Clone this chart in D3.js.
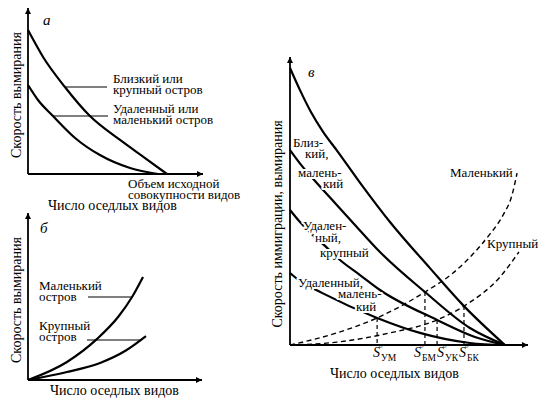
<!DOCTYPE html>
<html><head><meta charset="utf-8">
<script src="https://cdn.jsdelivr.net/npm/d3@7"></script>
<style>
html,body{margin:0;padding:0;background:#fff;}
svg{display:block;}
svg text{font-family:"Liberation Serif","DejaVu Serif",serif;}
</style></head>
<body>
<script>
// ---------- DATA (x,y in 0..100 axis units) ----------
// Panel а: extinction rate curves
const aCloseLarge = [[0,86.7],[8.6,70.5],[21.1,52.4],[35.4,34.9],[52.6,20.5],[66.9,9.6],[79.4,0]];
const aFarSmall   = [[0,53.6],[5.7,44.6],[14.3,34.9],[26.9,21.7],[41.1,11.4],[58.3,3.6],[74.3,0]];
// Panel б: extinction rate vs number of species
const bSmall = [[0,0],[22.4,10.8],[39.7,24.6],[52,38],[59.8,49.7],[66.1,61.7]];
const bLarge = [[0,0],[22.4,4.8],[41.4,10.2],[56,17.5],[67.8,26.3]];
// Panel в: immigration curves (solid)
const cCloseLarge = [[0,96.2],[4.2,88.5],[8.8,80.9],[13.9,74],[20.2,67],[30.7,54.9],[42,42.7],[58.8,26.7],[73.1,13.5],[90.3,0]];
const cCloseSmall = [[0,67.7],[5,62.2],[10.9,56.6],[18.9,49.3],[27.3,41.7],[37.8,32.3],[56.7,18.4],[75.6,5.9],[90.3,0]];
const cFarLarge   = [[0,46.9],[4.2,42.7],[9.2,38.5],[14.7,34.4],[21,29.5],[29.4,24.3],[37.8,19.1],[61.8,8.7],[77.7,2.8],[90.3,0]];
const cFarSmall   = [[0,25],[4.2,22.2],[13.4,18.1],[36.6,9.4],[54.6,4.2],[75.6,0.7],[90.3,0]];
// Panel в: extinction curves (dashed)
const cExtSmall = [[0,0],[19.7,4.2],[36.6,9.4],[56.7,18.4],[68.5,25],[77.7,32.3],[84,38.5],[89.5,45.1],[93.3,52.1],[95.4,59.7]];
const cExtLarge = [[0,0],[19.7,1],[42,4.2],[61.8,8.7],[73.1,13.5],[88.2,23.6],[96.2,32.3]];
// Equilibrium points S°
const eqSubs = ["УМ","БМ","УК","БК"];
const eqX    = [36.6, 56.7, 61.8, 73.1];
const eqY    = [9.4, 18.4, 8.7, 13.5];

// ---------- DRAWING ----------
const W = 546, H = 403;
const svg = d3.select("body").append("svg").attr("width", W).attr("height", H);
svg.append("rect").attr("width", W).attr("height", H).attr("fill", "#fff");

const defs = svg.append("defs");
defs.append("marker").attr("id", "arr").attr("viewBox", "0 0 10 10")
  .attr("refX", 10).attr("refY", 5).attr("markerWidth", 9).attr("markerHeight", 6)
  .attr("markerUnits", "userSpaceOnUse").attr("orient", "auto")
  .append("path").attr("d", "M0,0 L10,5 L0,10 Z").attr("fill", "#000");

function panel(xr, yr) {
  const x = d3.scaleLinear().domain([0, 100]).range(xr);
  const y = d3.scaleLinear().domain([0, 100]).range(yr);
  const line = d3.line().x(d => x(d[0])).y(d => y(d[1])).curve(d3.curveMonotoneX);
  const ax = d3.line().x(d => x(d[0])).y(d => y(d[1]));
  svg.append("path").attr("d", ax([[0, 0], [100, 0]])).attr("stroke", "#000")
    .attr("stroke-width", 1.8).attr("fill", "none").attr("marker-end", "url(#arr)");
  svg.append("path").attr("d", ax([[0, 0], [0, 100]])).attr("stroke", "#000")
    .attr("stroke-width", 1.8).attr("fill", "none").attr("marker-end", "url(#arr)");
  return {x, y, line};
}
function curve(p, data, dashed) {
  svg.append("path").attr("d", p.line(data)).attr("fill", "none").attr("stroke", "#000")
    .attr("stroke-width", dashed ? 1.4 : 2.2)
    .attr("stroke-dasharray", dashed ? "5,3.5" : null);
}
function text(x, y, s, opts = {}) {
  const t = svg.append("text").attr("x", x).attr("y", y).text(s)
    .attr("font-size", opts.size || 13).attr("fill", "#000");
  if (opts.italic) t.attr("font-style", "italic");
  if (opts.anchor) t.attr("text-anchor", opts.anchor);
  if (opts.halo) t.attr("stroke", "#fff").attr("stroke-width", 4).attr("paint-order", "stroke")
    .attr("stroke-linejoin", "round");
  return t;
}
function vtext(cx, cy, s, size) {
  svg.append("text").attr("transform", `translate(${cx},${cy}) rotate(-90)`)
    .attr("text-anchor", "middle").attr("font-size", size).text(s);
}
function leader(x1, y1, x2, y2) {
  svg.append("line").attr("x1", x1).attr("y1", y1).attr("x2", x2).attr("y2", y2)
    .attr("stroke", "#000").attr("stroke-width", 1.1);
}

// ---- Panel а ----
const pa = panel([28, 203], [174, 8]);
curve(pa, aCloseLarge);
curve(pa, aFarSmall);
text(43, 25, "а", {italic: true, size: 15});
leader(65, 87, 107, 87);
leader(53, 116, 108, 116);
text(113, 83, "Близкий или");
text(113, 94, "крупный остров");
text(113, 113, "Удаленный или");
text(113, 124, "маленький остров");
text(128, 188, "Объем исходной");
text(128, 199, "совокупности видов");
text(48, 210, "Число оседлых видов", {size: 14});
vtext(21, 95, "Скорость вымирания", 14);

// ---- Panel б ----
const pb = panel([28, 202], [380, 213]);
curve(pb, bSmall);
curve(pb, bLarge);
text(40, 233, "б", {italic: true, size: 15});
leader(88, 297, 132, 297);
leader(87, 340, 142, 340);
text(39, 290, "Маленький");
text(39, 301, "остров");
text(39, 330, "Крупный");
text(39, 341, "остров");
text(50, 395, "Число оседлых видов", {size: 14});
vtext(21, 300, "Скорость вымирания", 14);

// ---- Panel в ----
const pc = panel([290, 528], [345, 57]);
curve(pc, cExtSmall, true);
curve(pc, cExtLarge, true);
eqX.forEach((ex, i) => {
  svg.append("line").attr("x1", pc.x(ex)).attr("x2", pc.x(ex))
    .attr("y1", pc.y(eqY[i])).attr("y2", pc.y(0))
    .attr("stroke", "#000").attr("stroke-width", 1.2).attr("stroke-dasharray", "4,3");
});
curve(pc, cCloseLarge);
curve(pc, cCloseSmall);
curve(pc, cFarLarge);
curve(pc, cFarSmall);

text(308, 77, "в", {italic: true, size: 15});
const h = {halo: true};
text(293, 147, "Близ-", h);
text(305, 158, "кий,", h);
text(298, 177, "малень-", h);
text(323, 188, "кий", h);
text(303, 230, "Удален-", h);
text(315, 242, "ный,", h);
text(320, 257, "крупный", h);
text(298, 287, "Удаленный,", h);
text(338, 298, "малень-", h);
text(356, 311, "кий", h);
text(450, 177, "Маленький", h);
text(487, 248, "Крупный", h);

// S° labels under the equilibrium lines
const labelDx = [-4, -11, 0, -5];
eqX.forEach((ex, i) => {
  const sx = pc.x(ex) + labelDx[i];
  text(sx, 357, "S", {italic: true, size: 14});
  text(sx + 6, 351, "°", {size: 9});
  text(sx + 8, 361, eqSubs[i], {size: 9.5});
});
text(330, 378, "Число оседлых видов", {size: 14});
vtext(282, 224, "Скорость иммиграции, вымирания", 14);
</script>
</body></html>
